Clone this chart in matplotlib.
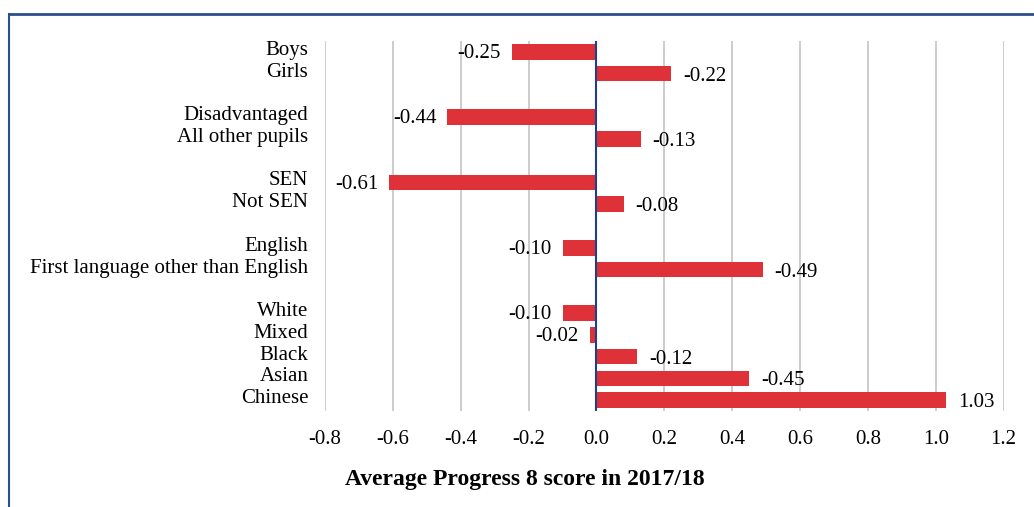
import matplotlib.pyplot as plt
from matplotlib.lines import Line2D
from matplotlib.transforms import ScaledTranslation

plt.rcParams['font.family'] = ['Liberation Serif', 'DejaVu Serif']

# Pupil groups, top to bottom, with a blank slot between each group
groups = [
    ['Boys', 'Girls'],
    ['Disadvantaged', 'All other pupils'],
    ['SEN', 'Not SEN'],
    ['English', 'First language other than English'],
    ['White', 'Mixed', 'Black', 'Asian', 'Chinese'],
]
scores = [-0.25, 0.22, -0.44, 0.13, -0.61, 0.08, -0.10, 0.49,
          -0.10, -0.02, 0.12, 0.45, 1.03]
score_text = ['-0.25', '-0.22', '-0.44', '-0.13', '-0.61', '-0.08', '-0.10',
              '-0.49', '-0.10', '-0.02', '-0.12', '-0.45', '1.03']
x_ticks = [-0.8, -0.6, -0.4, -0.2, 0.0, 0.2, 0.4, 0.6, 0.8, 1.0, 1.2]

labels, ypos = [], []
slot = 0
for g in groups:
    for name in g:
        labels.append(name)
        ypos.append(slot)
        slot += 1
    slot += 1
last = ypos[-1]

fig = plt.figure(figsize=(10.34, 5.07), dpi=100)
ax = fig.add_axes([325 / 1034, 96 / 507, 678.6 / 1034, 370 / 507])

ax.barh(ypos, scores, height=0.72, color='#de3138', zorder=3)
ax.axvline(0, color='#1f3f8a', lw=1.5, zorder=4)

for y, v, t in zip(ypos, scores, score_text):
    if v < 0:
        ax.text(v - 0.032, y + 0.08, t, ha='right', va='center', fontsize=15, zorder=5)
    else:
        ax.text(v + 0.035, y + 0.12, t, ha='left', va='center', fontsize=15, zorder=5)

ax.set_xlim(-0.8, 1.2)
ax.set_ylim(last + 0.5, -0.5)
ax.set_xticks(x_ticks)
ax.set_xticklabels([f'{t:.1f}' for t in x_ticks], fontsize=15)
ax.set_yticks(ypos)
ax.set_yticklabels(labels, fontsize=15)
ax.tick_params(length=0)
ax.tick_params(axis='y', pad=12)
ax.tick_params(axis='x', pad=14)
ax.grid(axis='x', color='#c4c4c4', lw=1.2, zorder=0)
for s in ax.spines.values():
    s.set_visible(False)

# category names sit a little above their bars
lift = ScaledTranslation(0, 4 / 100, fig.dpi_scale_trans)
for lbl in ax.get_yticklabels():
    lbl.set_transform(lbl.get_transform() + lift)

fig.text(525 / 1034, 1 - 479 / 507, 'Average Progress 8 score in 2017/18',
         ha='center', va='center', fontsize=17, fontweight='bold')

# outer frame around the chart
fig.add_artist(Line2D([9 / 1034, 9 / 1034], [0, 1 - 14 / 507],
                      color='#2b4f8a', lw=1.5, transform=fig.transFigure))
fig.add_artist(Line2D([9 / 1034, 1], [1 - 14 / 507, 1 - 14 / 507],
                      color='#2b4f8a', lw=2, transform=fig.transFigure))

fig.savefig('out.png', dpi=100)
